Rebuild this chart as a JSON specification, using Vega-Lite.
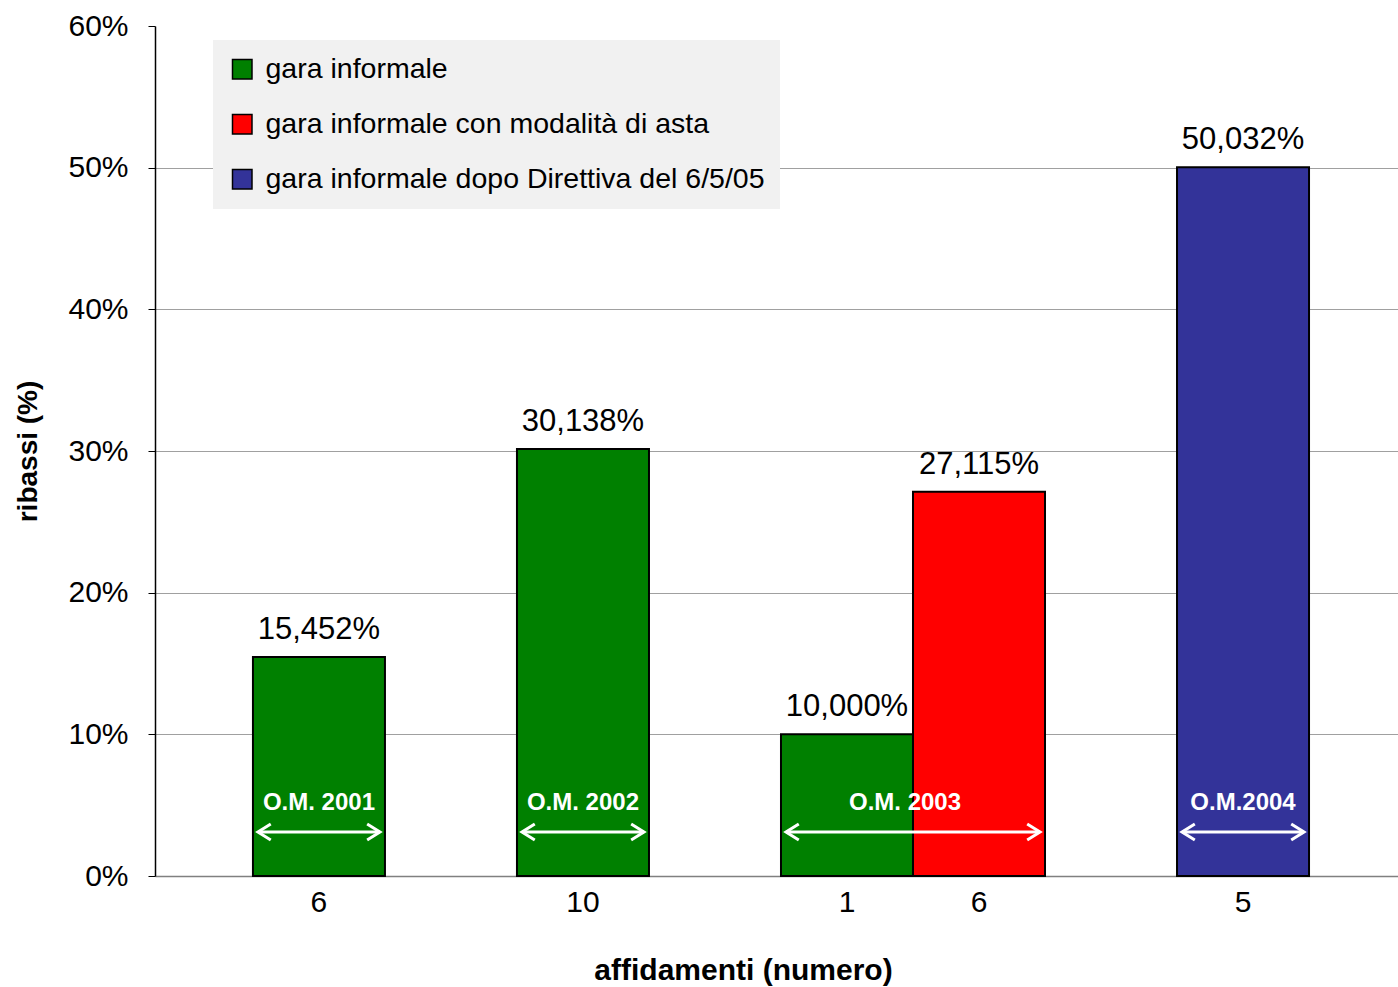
{
  "$schema": "https://vega.github.io/schema/vega-lite/v6.json",
  "width": 1243,
  "height": 850,
  "autosize": {"type": "none"},
  "padding": {"left": 155, "top": 26, "right": 0, "bottom": 111},
  "background": "white",
  "config": {
    "locale": {"number": {"decimal": ",", "thousands": ".", "grouping": [3], "currency": ["€", ""]}},
    "font": "Liberation Sans",
    "view": {"stroke": null}
  },
  "datasets": {
    "barre": [
      {"barra": "2001", "tipo": "gara informale", "ribasso": 0.15452, "affidamenti": 6},
      {"barra": "2002", "tipo": "gara informale", "ribasso": 0.30138, "affidamenti": 10},
      {"barra": "2003a", "tipo": "gara informale", "ribasso": 0.10000, "affidamenti": 1},
      {"barra": "2003b", "tipo": "gara informale con modalità di asta", "ribasso": 0.27115, "affidamenti": 6},
      {"barra": "2004", "tipo": "gara informale dopo Direttiva del 6/5/05", "ribasso": 0.50032, "affidamenti": 5}
    ],
    "periodi": [
      {"om": "O.M. 2001", "da": "2001", "a": "2001", "gruppo": "singolo"},
      {"om": "O.M. 2002", "da": "2002", "a": "2002", "gruppo": "singolo"},
      {"om": "O.M. 2003", "da": "2003a", "a": "2003b", "gruppo": "doppio"},
      {"om": "O.M.2004", "da": "2004", "a": "2004", "gruppo": "singolo"}
    ]
  },
  "encoding": {
    "x": {
      "field": "barra",
      "type": "nominal",
      "sort": null,
      "scale": {
        "domain": ["2001", "g1", "2002", "g2", "2003a", "2003b", "g3", "2004"],
        "paddingInner": 0,
        "paddingOuter": 0.708,
        "align": 0.524
      },
      "axis": {
        "labels": false,
        "ticks": false,
        "grid": false,
        "domainColor": "#808080",
        "domainWidth": 1.5,
        "title": "affidamenti (numero)",
        "titleFontSize": 30,
        "titleFontWeight": "bold",
        "titleColor": "black",
        "titleX": 588,
        "titleY": 94,
        "titleBaseline": "middle",
        "titleAlign": "center"
      }
    }
  },
  "layer": [
    {
      "data": {"name": "barre"},
      "mark": {"type": "bar", "stroke": "black", "strokeWidth": 2},
      "encoding": {
        "y": {
          "field": "ribasso",
          "type": "quantitative",
          "scale": {"domain": [0, 0.6], "nice": false},
          "axis": {
            "values": [0, 0.1, 0.2, 0.3, 0.4, 0.5, 0.6],
            "format": ".0%",
            "labelFontSize": 30,
            "labelColor": "black",
            "labelPadding": 20,
            "tickSize": 7,
            "tickColor": "black",
            "domainColor": "black",
            "domainWidth": 1.5,
            "grid": true,
            "gridColor": "#a0a0a0",
            "gridWidth": 1,
            "gridOpacity": {"condition": {"test": "datum.value > 0.55 || datum.value < 0.05", "value": 0}, "value": 1},
            "title": "ribassi (%)",
            "titleFontSize": 28,
            "titleFontWeight": "bold",
            "titleColor": "black",
            "titlePadding": 25
          }
        },
        "color": {
          "field": "tipo",
          "type": "nominal",
          "scale": {
            "domain": ["gara informale", "gara informale con modalità di asta", "gara informale dopo Direttiva del 6/5/05"],
            "range": ["#008000", "#ff0000", "#333399"]
          },
          "legend": {
            "title": null,
            "orient": "none",
            "legendX": 58,
            "legendY": 14,
            "fillColor": "#f1f1f1",
            "padding": 15,
            "symbolType": "square",
            "symbolSize": 380,
            "symbolStrokeColor": "black",
            "symbolStrokeWidth": 1.5,
            "symbolOpacity": 1,
            "labelFontSize": 28.5,
            "labelColor": "black",
            "labelOffset": 9,
            "rowPadding": 26,
            "labelLimit": 800
          }
        }
      }
    },
    {
      "data": {"name": "barre"},
      "mark": {"type": "text", "fontSize": 31, "baseline": "alphabetic", "dy": -18, "color": "black"},
      "encoding": {
        "y": {"field": "ribasso", "type": "quantitative"},
        "text": {"field": "ribasso", "type": "quantitative", "format": ".3%"}
      }
    },
    {
      "data": {"name": "barre"},
      "mark": {"type": "text", "fontSize": 30, "baseline": "top", "dy": 12, "color": "black"},
      "encoding": {
        "y": {"datum": 0},
        "text": {"field": "affidamenti", "type": "quantitative"}
      }
    },
    {
      "data": {"name": "periodi"},
      "mark": {"type": "rule", "color": "white", "strokeWidth": 3, "xOffset": 5, "x2Offset": -5},
      "encoding": {
        "x": {"field": "da", "type": "nominal", "bandPosition": 0},
        "x2": {"field": "a", "bandPosition": 1},
        "y": {"datum": 0.031}
      }
    },
    {
      "data": {"name": "periodi"},
      "mark": {"type": "point", "shape": "M1.6,-1L0,0L1.6,1", "filled": false, "stroke": "white", "strokeWidth": 3, "size": 256, "opacity": 1, "xOffset": 5},
      "encoding": {
        "x": {"field": "da", "type": "nominal", "bandPosition": 0},
        "y": {"datum": 0.031}
      }
    },
    {
      "data": {"name": "periodi"},
      "mark": {"type": "point", "shape": "M-1.6,-1L0,0L-1.6,1", "filled": false, "stroke": "white", "strokeWidth": 3, "size": 256, "opacity": 1, "xOffset": -5},
      "encoding": {
        "x": {"field": "a", "type": "nominal", "bandPosition": 1},
        "y": {"datum": 0.031}
      }
    },
    {
      "data": {"name": "periodi"},
      "transform": [{"filter": "datum.gruppo == 'singolo'"}],
      "mark": {"type": "text", "fontSize": 24, "fontWeight": "bold", "color": "white", "baseline": "alphabetic", "dy": -66},
      "encoding": {
        "x": {"field": "da", "type": "nominal"},
        "y": {"datum": 0},
        "text": {"field": "om"}
      }
    },
    {
      "data": {"name": "periodi"},
      "transform": [{"filter": "datum.gruppo == 'doppio'"}],
      "mark": {"type": "text", "fontSize": 24, "fontWeight": "bold", "color": "white", "baseline": "alphabetic", "dy": -66, "dx": -8},
      "encoding": {
        "x": {"field": "a", "type": "nominal", "bandPosition": 0},
        "y": {"datum": 0},
        "text": {"field": "om"}
      }
    }
  ]
}
